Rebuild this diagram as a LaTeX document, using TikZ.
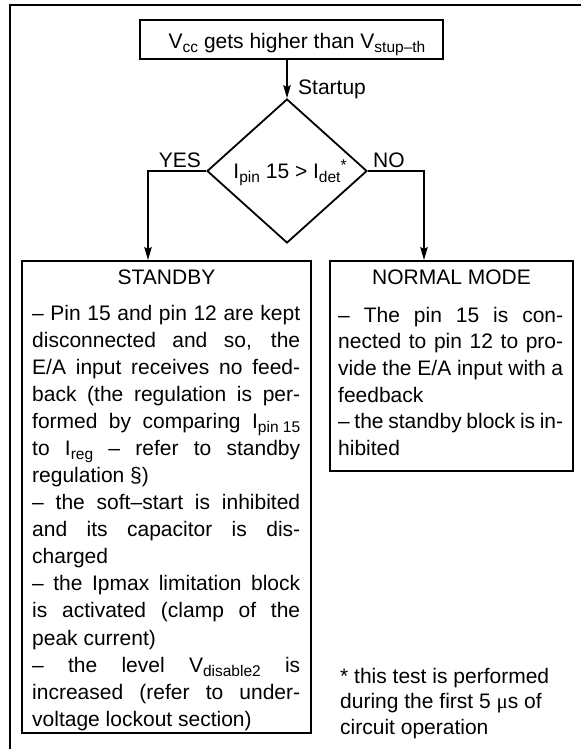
\documentclass[tikz,border=0pt]{standalone}
\usepackage{fontspec}
\setmainfont{Liberation Sans}
\newfontfamily\symgreek{Liberation Serif}
\usetikzlibrary{arrows.meta,shapes.geometric}
\newcommand\sbs[1]{\raisebox{-4pt}{\fontsize{15.5}{15.5}\selectfont\spaceskip=4.3pt\relax #1}}
\newcommand\sps[1]{\raisebox{7.5pt}{\fontsize{15.5}{15.5}\selectfont #1}}
\newcommand\txtfont[1]{\fontsize{21}{#1}\selectfont\spaceskip=5.84pt plus 2pt minus 1.5pt\relax\xspaceskip=\spaceskip}
\newcommand\linew{268pt}
\newcommand\jline[1]{\noindent\hbox to\linew{\spaceskip=5.84pt plus 30pt minus 2pt\relax\xspaceskip=\spaceskip\strut#1}\par}
\newcommand\rline[1]{\noindent\hbox to\linew{\strut#1\hfil}\par}
\begin{document}
\begin{tikzpicture}[x=1pt,y=-1pt,
  boxframe/.style={draw, line width=2pt, inner sep=0pt},
  conn/.style={line width=1.1pt},
  arrowed/.style={-{Stealth[length=13pt,width=7.5pt,inset=2pt]}},
  lbl/.style={inner sep=0pt, font=\txtfont{25}},
  para/.style={inner sep=0pt, anchor=north west, text width=#1},
]
\useasboundingbox (0,0) rectangle (581,749);
% outer frame (only left and top edges visible)
\draw[line width=2.2pt] (10,749) -- (10,5) -- (581,5);

% top box
\node[boxframe, minimum width=303pt, minimum height=39pt] (start) at (291.5,39.5) {};
\node[lbl, anchor=base] (starttext) at (297,49) {V\sbs{cc} gets higher than V\sbs{stup–th}};

% decision diamond
\node[draw, diamond, line width=1.8pt, minimum width=160pt, minimum height=144pt, inner sep=0pt] (dec) at (287,171) {};
\node[lbl, anchor=base] (dectext) at (290,178) {I\sbs{pin} 15 > I\sbs{det}\sps{*}};

% labels
\node[lbl, anchor=base west] (startup) at (298,95) {Startup};
\node[lbl, anchor=base east] (yes) at (201,167) {YES};
\node[lbl, anchor=base west] (no) at (373,167) {NO};

% result boxes
\node[boxframe, minimum width=289pt, minimum height=472pt] (standby) at (166.5,497) {};
\node[boxframe, minimum width=243pt, minimum height=210pt] (normal) at (451.5,366) {};

\coordinate (yl) at (148,171);
\coordinate (nl) at (424,171);

% connectors
\draw[conn, arrowed] (dec.north |- start.south) -- (dec.north);
\draw[conn, arrowed] (dec.west) -| (standby.north -| yl);
\draw[conn, arrowed] (dec.east) -| (normal.north -| nl);

% titles
\node[lbl, anchor=base] (sbtitle) at (166.5,284) {STANDBY};
\node[lbl, anchor=base] (nmtitle) at (451.5,284) {NORMAL MODE};

% standby text
\node[para=268pt] (sbtext) at (32,301.05) {\txtfont{27.07}\renewcommand\linew{268pt}%
\jline{– Pin 15 and pin 12 are kept}
\jline{disconnected and so, the}
\jline{E/A input receives no feed-}
\jline{back (the regulation is per-}
\jline{formed by comparing I\sbs{pin 15}}
\jline{to I\sbs{reg} – refer to standby}
\rline{regulation §)}
\jline{– the soft–start is inhibited}
\jline{and its capacitor is dis-}
\rline{charged}
\jline{– the Ipmax limitation block}
\jline{is activated (clamp of the}
\rline{peak current)}
\jline{– the level V\sbs{disable2} is}
\jline{increased (refer to under-}
\rline{voltage lockout section)}
};

% normal mode text
\node[para=225pt] (nmtext) at (338,303.38) {\txtfont{26.6}\renewcommand\linew{225pt}%
\jline{– The pin 15 is con-}
\jline{nected to pin 12 to pro-}
\jline{vide the E/A input with a}
\rline{feedback}
\jline{– the standby block is in-}
\rline{hibited}
};

% footnote
\node[para=235pt] (foot) at (340,665.15) {\txtfont{25.5}\renewcommand\linew{235pt}%
\rline{* this test is performed}
\rline{during the first 5 {\symgreek μ}s of}
\rline{circuit operation}
};
\end{tikzpicture}
\end{document}
